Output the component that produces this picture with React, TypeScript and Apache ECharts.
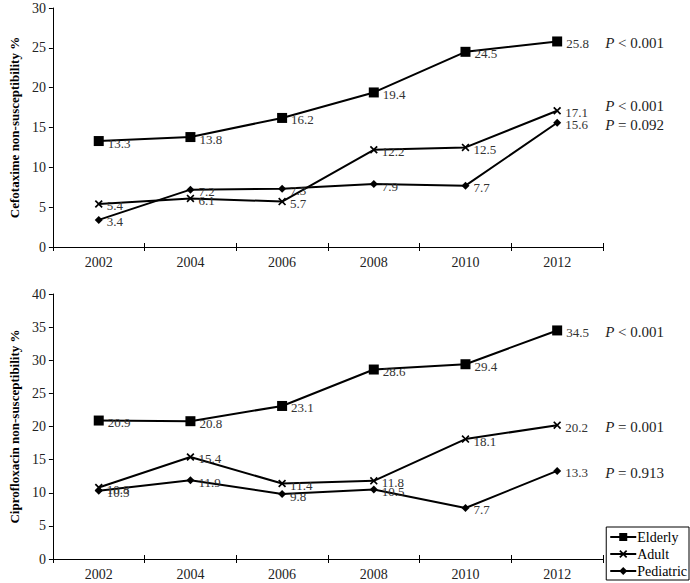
import React, { useEffect, useRef } from "react";
import * as echarts from "echarts";

const years = ["2002", "2004", "2006", "2008", "2010", "2012"];
const seriesNames = ["Elderly", "Adult", "Pediatric"];
const cefoElderly = [13.3, 13.8, 16.2, 19.4, 24.5, 25.8];
const cefoAdult = [5.4, 6.1, 5.7, 12.2, 12.5, 17.1];
const cefoPediatric = [3.4, 7.2, 7.3, 7.9, 7.7, 15.6];
const ciproElderly = [20.9, 20.8, 23.1, 28.6, 29.4, 34.5];
const ciproAdult = [10.8, 15.4, 11.4, 11.8, 18.1, 20.2];
const ciproPediatric = [10.3, 11.9, 9.8, 10.5, 7.7, 13.3];
const cefoP = ["< 0.001", "< 0.001", "= 0.092"];
const ciproP = ["< 0.001", "= 0.001", "= 0.913"];

const FONT = '"Liberation Serif", "Times New Roman", serif';
const CROSS = "path://M0,1.5L1.5,0L5,3.5L8.5,0L10,1.5L6.5,5L10,8.5L8.5,10L5,6.5L1.5,10L0,8.5L3.5,5Z";
const symbols = ["rect", CROSS, "diamond"];
const symbolSizes = [10, 8, 8];

export default function App() {
  const ref = useRef<HTMLDivElement>(null);
  useEffect(() => {
    if (!ref.current) return;
    const chart = echarts.init(ref.current, undefined, { renderer: "svg" });
    const makeSeries = (data: number[], idx: number, axis: number) => ({
      name: seriesNames[idx],
      type: "line",
      xAxisIndex: axis * 2,
      yAxisIndex: axis,
      data,
      symbol: symbols[idx],
      symbolSize: symbolSizes[idx],
      lineStyle: { color: "#000", width: 2 },
      itemStyle: { color: "#000" },
      label: {
        show: true,
        position: "right",
        distance: 4,
        offset: [0, 2],
        fontFamily: FONT,
        fontSize: 13,
        color: "#333",
      },
    });
    const xAxis = (gi: number, inside: boolean) => ({
      type: "category",
      gridIndex: gi,
      position: "bottom",
      data: years,
      boundaryGap: true,
      axisLine: { lineStyle: { color: "#000", width: 1 } },
      axisTick: { show: true, inside, length: 4, lineStyle: { color: "#000" } },
      axisLabel: { show: !inside, fontFamily: FONT, fontSize: 14, color: "#222", margin: 8 },
    });
    const yAxis = (gi: number, max: number, name: string) => ({
      type: "value",
      gridIndex: gi,
      min: 0,
      max,
      interval: 5,
      name,
      nameLocation: "middle",
      nameGap: 31,
      nameTextStyle: { fontFamily: FONT, fontSize: 13, fontWeight: "bold", color: "#000" },
      axisLine: { show: true, lineStyle: { color: "#000", width: 1 } },
      axisTick: { show: true, length: 4, lineStyle: { color: "#000" } },
      axisLabel: { fontFamily: FONT, fontSize: 14, color: "#222", margin: 7 },
      splitLine: { show: false },
    });
    const groups = [
      { grid: 0, data: [cefoElderly, cefoAdult, cefoPediatric], p: cefoP, dy: [0, -7, 0] },
      { grid: 1, data: [ciproElderly, ciproAdult, ciproPediatric], p: ciproP, dy: [0, 0, 0] },
    ];
    chart.setOption({
      animation: false,
      backgroundColor: "#fff",
      grid: [
        { left: 51, top: 8, width: 552, height: 239 },
        { left: 51, top: 294, width: 552, height: 265 },
      ],
      xAxis: [xAxis(0, false), xAxis(0, true), xAxis(1, false), xAxis(1, true)],
      yAxis: [
        yAxis(0, 30, "Cefotaxime non-susceptibility %"),
        yAxis(1, 40, "Ciprofloxacin non-susceptibility %"),
      ],
      legend: {
        orient: "vertical",
        right: 1,
        bottom: 3,
        padding: [3, 2, 2, 3],
        itemGap: 3,
        itemWidth: 26,
        itemHeight: 10,
        borderColor: "#000",
        borderWidth: 1,
        backgroundColor: "#fff",
        data: seriesNames,
        textStyle: { fontFamily: FONT, fontSize: 14, color: "#000", padding: [0, 0, 0, -4] },
      },
      series: groups.flatMap((g) => g.data.map((d, i) => makeSeries(d, i, g.grid))),
    });
    const graphics: any[] = [];
    groups.forEach((g) => {
      g.data.forEach((d, i) => {
        const last = d.length - 1;
        const pt = chart.convertToPixel(
          { xAxisIndex: g.grid * 2, yAxisIndex: g.grid } as any,
          [years[last], d[last]]
        ) as number[];
        graphics.push({
          type: "text",
          x: pt[0] + 48,
          y: pt[1] + 2 + g.dy[i],
          style: {
            rich: {
              p: { fontFamily: FONT, fontSize: 15, fontStyle: "italic", fill: "#222" },
              t: { fontFamily: FONT, fontSize: 15, fill: "#222" },
            },
            text: `{p|P} {t|${g.p[i]}}`,
            verticalAlign: "middle",
            fill: "#222",
            font: `15px ${FONT}`,
          },
        });
      });
    });
    chart.setOption({ graphic: graphics });
    return () => chart.dispose();
  }, []);
  return (
    <div
      ref={ref}
      style={{ position: "absolute", left: 0, top: 0, width: 690, height: 583 }}
    />
  );
}
